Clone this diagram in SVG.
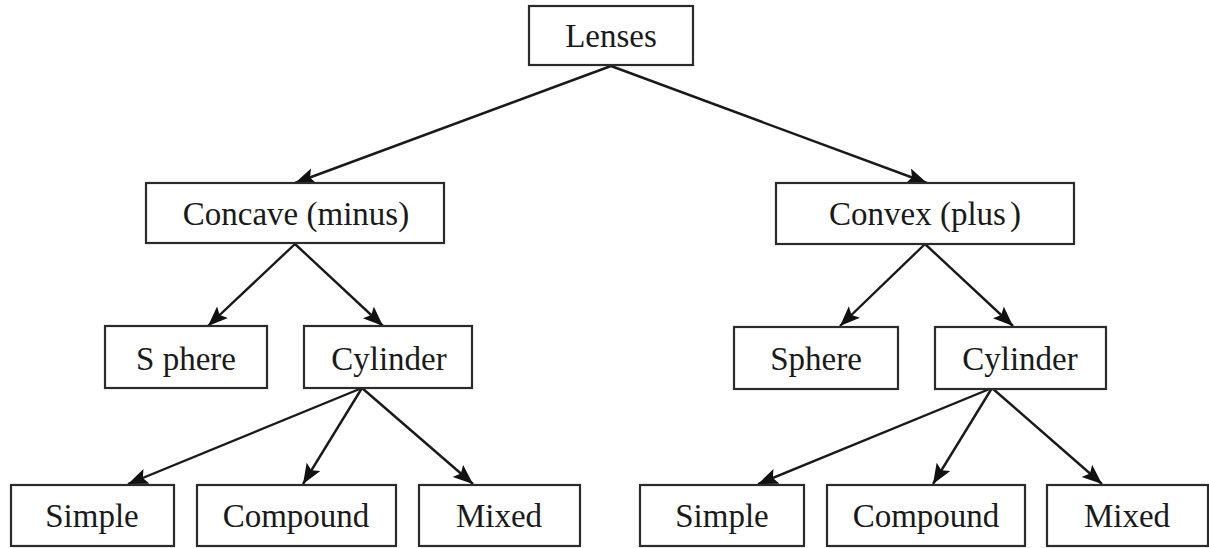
<svg xmlns="http://www.w3.org/2000/svg" width="1209" height="548" viewBox="0 0 1209 548">
  <style>
    .box { fill: #ffffff; stroke: #2b2b2b; stroke-width: 2.2; }
    .lbl { font-family: "Liberation Serif", "Times New Roman", serif; font-size: 33px; fill: #1a1a1a; text-anchor: middle; }
    .edge { stroke: #1a1a1a; stroke-width: 2.4; fill: none; marker-end: url(#arrow); }
  </style>
  <defs>
    <marker id="arrow" markerUnits="userSpaceOnUse" markerWidth="22" markerHeight="18" refX="20" refY="8" orient="auto">
      <path d="M0,0 L20,8 L0,16 L4,8 Z" fill="#111111"/>
    </marker>
  </defs>
  <rect width="1209" height="548" fill="#ffffff"/>

  <!-- connectors -->
  <g id="connectors">
    <line class="edge" x1="611" y1="66" x2="295" y2="183"/>
    <line class="edge" x1="611" y1="66" x2="927" y2="183"/>
    <line class="edge" x1="295" y1="244" x2="208" y2="326"/>
    <line class="edge" x1="295" y1="244" x2="383" y2="326"/>
    <line class="edge" x1="925" y1="244" x2="840" y2="326"/>
    <line class="edge" x1="925" y1="244" x2="1013" y2="326"/>
    <line class="edge" x1="362" y1="388" x2="128" y2="484"/>
    <line class="edge" x1="362" y1="388" x2="303" y2="484"/>
    <line class="edge" x1="362" y1="388" x2="473" y2="484"/>
    <line class="edge" x1="992" y1="388" x2="758" y2="484"/>
    <line class="edge" x1="992" y1="388" x2="933" y2="484"/>
    <line class="edge" x1="992" y1="388" x2="1102" y2="484"/>
  </g>

  <!-- root -->
  <g id="lenses">
    <rect class="box" x="529" y="6" width="164" height="59"/>
    <text class="lbl" x="611" y="47">Lenses</text>
  </g>

  <!-- second level -->
  <g id="concave">
    <rect class="box" x="146" y="183" width="298" height="60"/>
    <text class="lbl" x="296" y="225">Concave (minus)</text>
  </g>
  <g id="convex">
    <rect class="box" x="776" y="183" width="298" height="61"/>
    <text class="lbl" x="925" y="225">Convex (plus<tspan dx="4">)</tspan></text>
  </g>

  <!-- third level -->
  <g id="sphere-concave">
    <rect class="box" x="105" y="326" width="162" height="62"/>
    <text class="lbl" x="186" y="370">S phere</text>
  </g>
  <g id="cylinder-concave">
    <rect class="box" x="304" y="326" width="168" height="62"/>
    <text class="lbl" x="389" y="370">Cylinder</text>
  </g>
  <g id="sphere-convex">
    <rect class="box" x="734" y="327" width="164" height="62"/>
    <text class="lbl" x="816" y="370">Sphere</text>
  </g>
  <g id="cylinder-convex">
    <rect class="box" x="935" y="327" width="171" height="62"/>
    <text class="lbl" x="1020" y="370">Cylinder</text>
  </g>

  <!-- leaves, concave side -->
  <g id="simple-concave">
    <rect class="box" x="11" y="485" width="163" height="61"/>
    <text class="lbl" x="92" y="527">Simple</text>
  </g>
  <g id="compound-concave">
    <rect class="box" x="197" y="485" width="199" height="61"/>
    <text class="lbl" x="296" y="527">Compound</text>
  </g>
  <g id="mixed-concave">
    <rect class="box" x="419" y="485" width="161" height="61"/>
    <text class="lbl" x="499" y="527">Mixed</text>
  </g>

  <!-- leaves, convex side -->
  <g id="simple-convex">
    <rect class="box" x="640" y="485" width="164" height="61"/>
    <text class="lbl" x="722" y="527">Simple</text>
  </g>
  <g id="compound-convex">
    <rect class="box" x="827" y="485" width="198" height="61"/>
    <text class="lbl" x="926" y="527">Compound</text>
  </g>
  <g id="mixed-convex">
    <rect class="box" x="1047" y="485" width="161" height="61"/>
    <text class="lbl" x="1127" y="527">Mixed</text>
  </g>
</svg>
